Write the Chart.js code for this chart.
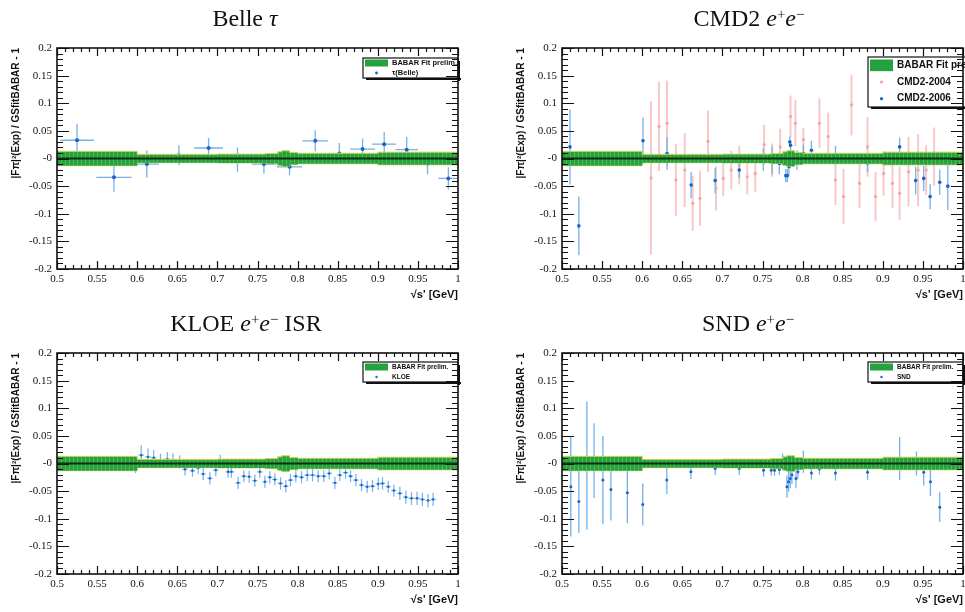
<!DOCTYPE html>
<html>
<head>
<meta charset="utf-8">
<title>Ratio to BABAR fit</title>
<script src="https://cdn.jsdelivr.net/npm/chart.js@4"></script>
<style>
  html, body { margin: 0; padding: 0; background: #fff; overflow: hidden; }
  body { width: 965px; height: 612px; position: relative; }
  canvas { position: absolute; }
  .title {
    position: absolute;
    font-family: 'Liberation Serif', 'Times New Roman', serif;
    font-size: 24px;
    line-height: 24px;
    color: #111;
    white-space: nowrap;
    transform: translateX(-50%);
  }
  .title sup { font-size: 0.62em; vertical-align: 0.5em; line-height: 0; }
</style>
</head>
<body>
<canvas id="belle" width="480" height="305" style="left:0;top:0"></canvas>
<canvas id="cmd2" width="480" height="305" style="left:505px;top:0"></canvas>
<canvas id="kloe" width="480" height="305" style="left:0;top:305px"></canvas>
<canvas id="snd" width="480" height="305" style="left:505px;top:305px"></canvas>

<div class="title" style="left:245px;top:6px">Belle <i>τ</i></div>
<div class="title" style="left:749px;top:6px">CMD2 <i>e</i><sup>+</sup><i>e</i><sup>−</sup></div>
<div class="title" style="left:246px;top:311px">KLOE <i>e</i><sup>+</sup><i>e</i><sup>−</sup> ISR</div>
<div class="title" style="left:748px;top:311px">SND <i>e</i><sup>+</sup><i>e</i><sup>−</sup></div>

<script>
  const xTickLabels = ['0.5', '0.55', '0.6', '0.65', '0.7', '0.75', '0.8', '0.85', '0.9', '0.95', '1'];
  const yTickLabels = ['-0.2', '-0.15', '-0.1', '-0.05', '-0', '0.05', '0.1', '0.15', '0.2'];
  const xTitle = "\u221As' [GeV]";
  const yTitle = '|F\u03C0|\u00B2(Exp) / GSfitBABAR - 1';

  // BABAR fit band: bin edges and half width
  const bandEdges = [0.5, 0.6, 0.7, 0.76, 0.775, 0.78, 0.79, 0.8, 0.9, 1.0];
  const bandHalf = [0.013, 0.0075, 0.008, 0.009, 0.012, 0.014, 0.011, 0.0095, 0.0115];

  // Belle tau
  const belleX = [0.525, 0.571, 0.612, 0.652, 0.689, 0.725, 0.758, 0.790, 0.822, 0.852, 0.881, 0.908, 0.936, 0.962, 0.988];
  const belleY = [0.033, -0.034, -0.010, 0.006, 0.019, -0.002, -0.010, -0.015, 0.032, 0.009, 0.017, 0.026, 0.016, -0.009, -0.036];
  const belleXErr = [0.021, 0.022, 0.015, 0.015, 0.018, 0.017, 0.015, 0.016, 0.016, 0.015, 0.0155, 0.015, 0.014, 0.013, 0.0125];
  const belleYErr = [0.030, 0.026, 0.025, 0.018, 0.018, 0.022, 0.017, 0.015, 0.019, 0.019, 0.019, 0.022, 0.023, 0.020, 0.020];

  // CMD2-2004
  const cmd04X = [0.611, 0.621, 0.631, 0.642, 0.653, 0.663, 0.672, 0.682, 0.692, 0.701, 0.711, 0.721, 0.731, 0.741, 0.752, 0.762, 0.772, 0.785, 0.791, 0.801, 0.821, 0.832, 0.841, 0.851, 0.861, 0.871, 0.881, 0.891, 0.901, 0.912, 0.921, 0.932, 0.944, 0.954, 0.964];
  const cmd04Y = [-0.035, 0.058, 0.064, -0.039, -0.021, -0.081, -0.072, 0.031, -0.054, -0.036, -0.021, -0.012, -0.033, -0.027, 0.025, -0.003, 0.021, 0.076, 0.064, 0.034, 0.064, 0.040, -0.039, -0.069, 0.097, -0.045, 0.021, -0.069, -0.027, -0.045, -0.063, -0.024, -0.021, -0.021, 0.003];
  const cmd04YErr = [0.139, 0.081, 0.077, 0.065, 0.067, 0.050, 0.050, 0.056, 0.040, 0.032, 0.035, 0.035, 0.032, 0.033, 0.036, 0.030, 0.033, 0.038, 0.042, 0.021, 0.045, 0.043, 0.045, 0.050, 0.055, 0.045, 0.054, 0.045, 0.040, 0.045, 0.048, 0.063, 0.065, 0.045, 0.053];

  // CMD2-2006
  const cmd06X = [0.510, 0.521, 0.601, 0.631, 0.661, 0.691, 0.721, 0.751, 0.762, 0.771, 0.779, 0.781, 0.783, 0.784, 0.785, 0.789, 0.793, 0.801, 0.811, 0.841, 0.881, 0.921, 0.941, 0.951, 0.959, 0.971, 0.981];
  const cmd06Y = [0.021, -0.122, 0.032, 0.009, -0.048, -0.040, -0.021, -0.002, -0.003, -0.009, -0.031, -0.031, -0.015, 0.030, 0.024, 0.000, -0.003, 0.009, 0.015, 0.006, -0.008, 0.021, -0.040, -0.036, -0.069, -0.043, -0.050];
  const cmd06YErr = [0.068, 0.053, 0.042, 0.030, 0.024, 0.023, 0.014, 0.020, 0.025, 0.020, 0.012, 0.012, 0.015, 0.010, 0.010, 0.015, 0.018, 0.016, 0.017, 0.017, 0.017, 0.017, 0.025, 0.023, 0.023, 0.023, 0.043];

  // KLOE
  const kloeX = [0.598, 0.605, 0.6135, 0.6205, 0.629, 0.6376, 0.6446, 0.653, 0.6596, 0.6689, 0.676, 0.6823, 0.6906, 0.698, 0.7035, 0.7134, 0.7175, 0.7258, 0.733, 0.7396, 0.7467, 0.7529, 0.7592, 0.7654, 0.7716, 0.7787, 0.7853, 0.7911, 0.7978, 0.8049, 0.812, 0.8186, 0.8257, 0.8327, 0.8394, 0.8465, 0.8527, 0.8598, 0.866, 0.8727, 0.8797, 0.8868, 0.8934, 0.9005, 0.9059, 0.913, 0.92, 0.9275, 0.935, 0.942, 0.949, 0.9556, 0.9627, 0.969];
  const kloeY = [-0.002, 0.015, 0.012, 0.0105, 0.0045, 0.008, 0.006, 0.003, -0.0105, -0.013, -0.008, -0.019, -0.027, -0.012, 0.004, -0.015, -0.015, -0.035, -0.023, -0.024, -0.031, -0.015, -0.033, -0.025, -0.029, -0.036, -0.041, -0.030, -0.023, -0.025, -0.021, -0.021, -0.023, -0.023, -0.018, -0.035, -0.021, -0.0165, -0.023, -0.030, -0.039, -0.042, -0.041, -0.037, -0.036, -0.042, -0.049, -0.054, -0.061, -0.063, -0.063, -0.065, -0.067, -0.065];
  const kloeYErr = [0.015, 0.018, 0.015, 0.014, 0.013, 0.013, 0.012, 0.012, 0.011, 0.011, 0.011, 0.011, 0.011, 0.011, 0.012, 0.011, 0.011, 0.011, 0.011, 0.011, 0.011, 0.011, 0.011, 0.011, 0.011, 0.011, 0.011, 0.011, 0.011, 0.011, 0.011, 0.011, 0.011, 0.011, 0.011, 0.011, 0.011, 0.011, 0.011, 0.011, 0.011, 0.011, 0.011, 0.011, 0.011, 0.011, 0.011, 0.012, 0.012, 0.012, 0.012, 0.012, 0.012, 0.012];
  const kloeXErr = [0.0033, 0.0033, 0.0033, 0.0033, 0.0033, 0.0033, 0.0033, 0.0033, 0.0033, 0.0033, 0.0033, 0.0033, 0.0033, 0.0033, 0.0033, 0.0033, 0.0033, 0.0033, 0.0033, 0.0033, 0.0033, 0.0033, 0.0033, 0.0033, 0.0033, 0.0033, 0.0033, 0.0033, 0.0033, 0.0033, 0.0033, 0.0033, 0.0033, 0.0033, 0.0033, 0.0033, 0.0033, 0.0033, 0.0033, 0.0033, 0.0033, 0.0033, 0.0033, 0.0033, 0.0033, 0.0033, 0.0033, 0.0033, 0.0033, 0.0033, 0.0033, 0.0033, 0.0033, 0.0033];

  // SND
  const sndX = [0.511, 0.521, 0.531, 0.540, 0.551, 0.561, 0.5815, 0.6007, 0.6307, 0.6607, 0.691, 0.721, 0.7513, 0.7609, 0.765, 0.771, 0.775, 0.7805, 0.7825, 0.7846, 0.7867, 0.7917, 0.7942, 0.801, 0.811, 0.821, 0.841, 0.881, 0.921, 0.942, 0.951, 0.9594, 0.971];
  const sndY = [-0.042, -0.069, -0.004, 0.005, -0.030, -0.047, -0.053, -0.074, -0.030, -0.015, -0.009, -0.009, -0.012, -0.012, -0.012, -0.011, 0.004, -0.042, -0.033, -0.027, -0.021, -0.027, -0.015, 0.003, -0.017, -0.010, -0.017, -0.016, 0.009, 0.000, -0.016, -0.033, -0.079];
  const sndYErr = [0.090, 0.057, 0.116, 0.068, 0.080, 0.056, 0.055, 0.038, 0.025, 0.013, 0.012, 0.012, 0.012, 0.010, 0.010, 0.010, 0.014, 0.020, 0.018, 0.018, 0.016, 0.018, 0.012, 0.020, 0.012, 0.010, 0.014, 0.014, 0.039, 0.022, 0.024, 0.026, 0.027];

  const serif = "'Liberation Serif', 'Times New Roman', serif";
  const sans = "'Liberation Sans', Arial, sans-serif";
  const bandGreen = '#23a23f';

  const halfAt = (x) => {
    let i = bandEdges.findIndex((e, k) => k < bandHalf.length && x >= e && x < bandEdges[k + 1]);
    if (i < 0) i = bandHalf.length - 1;
    return bandHalf[i];
  };

  const bandLine = (sign) =>
    bandEdges.map((x, i) => ({ x, y: sign * bandHalf[Math.min(i, bandHalf.length - 1)] }));

  function bandSets() {
    return [
      {
        label: 'centre',
        data: [{ x: bandEdges[0], y: 0 }, { x: bandEdges[bandEdges.length - 1], y: 0 }],
        borderColor: '#0a3210',
        borderWidth: 1.8,
        pointRadius: 0,
      },
      {
        label: 'BABAR Fit prelim.',
        data: bandLine(1),
        stepped: true,
        borderColor: '#d9d44a',
        borderWidth: 1,
        backgroundColor: bandGreen,
        fill: '+1',
        pointRadius: 0,
      },
      {
        label: 'lower',
        data: bandLine(-1),
        stepped: true,
        borderColor: '#d9d44a',
        borderWidth: 1,
        pointRadius: 0,
      },
    ];
  }

  function pointSet(label, xs, ys, exs, eys, mark, bar, r, bw) {
    return {
      label,
      data: xs.map((x, i) => ({ x, y: ys[i], ex: exs ? exs[i] : 0, ey: eys[i] })),
      showLine: false,
      pointRadius: r,
      pointBackgroundColor: mark,
      pointBorderColor: mark,
      pointBorderWidth: 0,
      errorColor: bar,
      errorWidth: bw,
    };
  }

  const errorBars = {
    id: 'errorBars',
    beforeDatasetsDraw(chart) {
      const { ctx, chartArea: a, scales: { x, y } } = chart;
      ctx.save();
      ctx.beginPath();
      ctx.rect(a.left, a.top, a.width, a.height);
      ctx.clip();
      chart.data.datasets.forEach((ds) => {
        if (!ds.errorColor) return;
        ctx.strokeStyle = ds.errorColor;
        ctx.lineWidth = ds.errorWidth;
        ds.data.forEach((p) => {
          const px = x.getPixelForValue(p.x);
          const py = y.getPixelForValue(p.y);
          ctx.beginPath();
          ctx.moveTo(px, y.getPixelForValue(p.y - p.ey));
          ctx.lineTo(px, y.getPixelForValue(p.y + p.ey));
          if (p.ex) {
            ctx.moveTo(x.getPixelForValue(p.x - p.ex), py);
            ctx.lineTo(x.getPixelForValue(p.x + p.ex), py);
          }
          ctx.stroke();
        });
      });
      ctx.restore();
    },
  };

  // faint bin lines across the fit band
  const binLines = {
    id: 'binLines',
    afterDatasetDraw(chart, args) {
      if (args.index !== 1) return;
      const { ctx, scales: { x, y } } = chart;
      ctx.save();
      ctx.strokeStyle = 'rgba(200,230,120,0.3)';
      ctx.lineWidth = 1;
      const n = Math.round((x.max - x.min) / 0.005);
      for (let k = 1; k < n; k++) {
        const xv = x.min + k * 0.005;
        const h = halfAt(xv);
        const px = Math.round(x.getPixelForValue(xv)) + 0.5;
        ctx.beginPath();
        ctx.moveTo(px, y.getPixelForValue(h));
        ctx.lineTo(px, y.getPixelForValue(-h));
        ctx.stroke();
      }
      ctx.restore();
    },
  };

  const boxLegend = {
    id: 'boxLegend',
    afterDraw(chart, args, opts) {
      const { ctx, chartArea: a } = chart;
      const bx = a.left + opts.dx, by = a.top + opts.dy, w = opts.w, h = opts.h;
      ctx.save();
      ctx.fillStyle = '#fff';
      ctx.fillRect(bx, by, w, h);
      ctx.fillStyle = '#111';
      ctx.fillRect(bx + 3, by + h, w, 2);
      ctx.fillRect(bx + w, by + 3, 2, h);
      ctx.strokeStyle = '#111';
      ctx.lineWidth = 1.2;
      ctx.strokeRect(bx, by, w, h);
      const rowH = h / opts.items.length;
      ctx.font = `bold ${opts.fontSize}px ${sans}`;
      ctx.textBaseline = 'middle';
      opts.items.forEach((it, i) => {
        const ds = chart.data.datasets[it.ds];
        const cy = by + rowH * (i + 0.5);
        if (it.box) {
          ctx.fillStyle = ds.backgroundColor;
          ctx.fillRect(bx + 2, cy - rowH * 0.35, 23, rowH * 0.7);
        } else {
          ctx.fillStyle = ds.pointBackgroundColor;
          ctx.beginPath();
          ctx.arc(bx + 13.5, cy, it.r, 0, Math.PI * 2);
          ctx.fill();
        }
        ctx.fillStyle = '#111';
        ctx.fillText(ds.label, bx + 29, cy);
      });
      ctx.restore();
    },
  };

  // ROOT style frame with inward ticks on all sides
  const frameTicks = {
    id: 'frameTicks',
    afterDraw(chart) {
      const { ctx, chartArea: a, scales: { x, y } } = chart;
      ctx.save();
      ctx.strokeStyle = '#111';
      ctx.lineWidth = 1.2;
      ctx.beginPath();
      const nx = Math.round((x.max - x.min) / 0.01);
      for (let k = 0; k <= nx; k++) {
        const px = Math.round(x.getPixelForValue(x.min + k * 0.01)) + 0.5;
        const len = k % 5 === 0 ? 8 : 4;
        ctx.moveTo(px, a.bottom);
        ctx.lineTo(px, a.bottom - len);
        ctx.moveTo(px, a.top);
        ctx.lineTo(px, a.top + len);
      }
      const ny = Math.round((y.max - y.min) / 0.01);
      for (let k = 0; k <= ny; k++) {
        const py = Math.round(y.getPixelForValue(y.min + k * 0.01)) + 0.5;
        const len = k % 5 === 0 ? 12 : 6;
        ctx.moveTo(a.left, py);
        ctx.lineTo(a.left + len, py);
        ctx.moveTo(a.right, py);
        ctx.lineTo(a.right - len, py);
      }
      ctx.stroke();
      ctx.lineWidth = 1.6;
      ctx.strokeRect(a.left, a.top, a.width, a.height);
      ctx.restore();
    },
  };

  function makeChart(id, extraSets, legend) {
    return new Chart(document.getElementById(id), {
      type: 'line',
      data: { datasets: bandSets().concat(extraSets) },
      options: {
        responsive: false,
        animation: false,
        events: [],
        layout: { padding: { top: 48, right: 22, bottom: 0, left: 0 } },
        plugins: {
          legend: { display: false },
          tooltip: { enabled: false },
          boxLegend: legend,
        },
        scales: {
          x: {
            type: 'linear',
            min: 0.5,
            max: 1,
            grid: { display: false, drawTicks: false },
            border: { display: false },
            ticks: {
              stepSize: 0.05,
              autoSkip: false,
              maxRotation: 0,
              padding: 4,
              color: '#111',
              font: { family: serif, size: 11 },
              callback: (v, i) => xTickLabels[i],
            },
            title: {
              display: true,
              text: xTitle,
              align: 'end',
              color: '#111',
              font: { family: sans, size: 11, weight: 'bold' },
              padding: { top: 0, bottom: 3 },
            },
            afterFit: (s) => { s.height = 36; },
          },
          y: {
            type: 'linear',
            min: -0.2,
            max: 0.2,
            grid: { display: false, drawTicks: false },
            border: { display: false },
            ticks: {
              stepSize: 0.05,
              autoSkip: false,
              padding: 5,
              color: '#111',
              font: { family: serif, size: 11 },
              callback: (v, i) => yTickLabels[i],
            },
            title: {
              display: true,
              text: yTitle,
              align: 'end',
              color: '#111',
              font: { family: sans, size: 10, weight: 'bold' },
              padding: { top: 10, bottom: 0 },
            },
            afterFit: (s) => { s.width = 57; },
          },
        },
      },
      plugins: [errorBars, binLines, boxLegend, frameTicks],
    });
  }

  const blueMark = '#1d62c4';
  const blueBar = '#74b1ea';
  const pinkMark = '#f2a6a6';
  const pinkBar = '#f8c8c8';

  makeChart(
    'belle',
    [pointSet('\u03C4(Belle)', belleX, belleY, belleXErr, belleYErr, blueMark, blueBar, 2, 1.3)],
    { dx: 306, dy: 10, w: 95, h: 20, fontSize: 7.5, items: [{ ds: 1, box: true }, { ds: 3, r: 1.4 }] },
  );

  makeChart(
    'cmd2',
    [
      pointSet('CMD2-2004', cmd04X, cmd04Y, null, cmd04YErr, pinkMark, pinkBar, 1.6, 2),
      pointSet('CMD2-2006', cmd06X, cmd06Y, null, cmd06YErr, blueMark, blueBar, 1.8, 1.3),
    ],
    { dx: 306, dy: 9, w: 125, h: 50, fontSize: 10, items: [{ ds: 1, box: true }, { ds: 3, r: 1.6 }, { ds: 4, r: 1.6 }] },
  );

  makeChart(
    'kloe',
    [pointSet('KLOE', kloeX, kloeY, kloeXErr, kloeYErr, blueMark, blueBar, 1.2, 1.2)],
    { dx: 306, dy: 9, w: 95, h: 20, fontSize: 6.5, items: [{ ds: 1, box: true }, { ds: 3, r: 1.2 }] },
  );

  makeChart(
    'snd',
    [pointSet('SND', sndX, sndY, null, sndYErr, blueMark, blueBar, 1.5, 1.3)],
    { dx: 306, dy: 9, w: 95, h: 20, fontSize: 6.5, items: [{ ds: 1, box: true }, { ds: 3, r: 1.2 }] },
  );
</script>
</body>
</html>
